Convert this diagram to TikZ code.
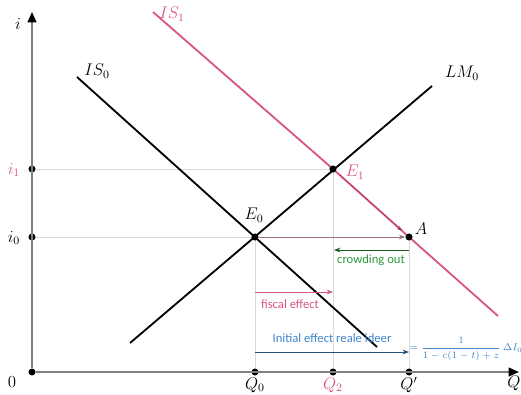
\documentclass[tikz,border=0pt]{standalone}
\usepackage{amsmath}
\usepackage{fontspec}
\newfontfamily\calib{Carlito}
\usetikzlibrary{arrows.meta,positioning}
\definecolor{pinkx}{HTML}{D9577E}
\definecolor{greenx}{HTML}{2E9A3A}
\definecolor{bluex}{HTML}{3F86CC}
\definecolor{redx}{HTML}{9A2C45}
\tikzset{
  curve/.style={line width=1.3pt},
  guide/.style={gray!30,line width=0.5pt},
  dot/.style={circle,fill=black,inner sep=0pt,minimum size=5pt},
  lbl/.style={font=\large,inner sep=1pt},
  eff/.style={-{Stealth[length=1.6mm]},line width=0.6pt},
  note/.style={font=\calib\small,inner sep=1pt}
}

\begin{document}
\begin{tikzpicture}[x=0.25mm,y=-0.25mm]
\useasboundingbox (0,0) rectangle (521,394);
% points
\node[dot] (O) at (32,372) {};
\node[dot] (i1) at (32,169) {};
\node[dot] (i0) at (32,237) {};
\node[dot] (Q0) at (255,372) {};
\node[dot] (Q2) at (333,372) {};
\node[dot] (Qp) at (409,372) {};
\coordinate (ytop) at (32,12);
\coordinate (xtop) at (519,372);
% guides
\draw[guide] (i1) -- (333,169);
\draw[guide] (i0) -- (255,237);
\draw[guide] (255,237) -- (Q0);
\draw[guide] (333,169) -- (Q2);
\draw[guide] (409,237) -- (Qp);
% axes
\draw[gray,line width=1.3pt,-{Triangle[length=2.6mm,width=2.2mm,color=black]}] (O) -- (ytop);
\draw[gray,line width=1.3pt,-{Triangle[length=2.6mm,width=2.2mm,color=black]}] (O) -- (xtop);
% curves
\draw[curve,pinkx] (153,12) -- (333,169) -- (409,237) -- (498,316);
\draw[curve] (77,77) -- (377,347);
\draw[curve] (130,343) -- (432,86);
\node[dot] (E0) at (255,237) {};
\node[dot] (E1) at (333,169) {};
\node[dot] (A) at (409,237) {};
% effects
\draw[redx,densely dotted,-{Stealth[length=1.3mm]},line width=0.7pt,shorten <=4pt,shorten >=4pt] (E1) -- (A);
\draw[eff,gray!70!pinkx] (E0) -- (A);
\coordinate (co1) at (409,250);
\coordinate (co2) at (334,250);
\draw[eff,greenx!60!black] (co1) -- (co2);
\coordinate (fe1) at (255,292);
\coordinate (fe2) at (333,292);
\draw[eff,pinkx] (fe1) -- (fe2);
\coordinate (ie1) at (255,352);
\coordinate (ie2) at (409,352);
\draw[eff,bluex!60!black] (ie1) -- (ie2);
% labels
\node[lbl] (li) at (18,24) {$i$};
\node[lbl] (lO) at (12,382) {$0$};
\node[lbl,text=pinkx] (li1) at (14,170) {$i_1$};
\node[lbl] (li0) at (14,238) {$i_0$};
\node[lbl] (lQ0) at (255,385) {$Q_0$};
\node[lbl,text=pinkx] (lQ2) at (333,385) {$Q_2$};
\node[lbl] (lQp) at (409,385) {$Q'$};
\node[lbl] (lQ) at (514,383) {$Q$};
\node[lbl] (lIS0) at (97,71) {$IS_0$};
\node[lbl,text=pinkx] (lIS1) at (172,14) {$IS_1$};
\node[lbl] (lLM0) at (462,73) {$LM_0$};
\node[lbl] (lE0) at (254,215) {$E_0$};
\node[lbl,text=pinkx] (lE1) at (355,172) {$E_1$};
\node[lbl] (lA) at (421,229) {$A$};
\node[note,text=greenx] (tco) at (371,260) {crowding out};
\node[note,text=pinkx] (tfe) at (290,304) {fiscal effect};
\node[note,text=bluex] (tie) at (332,338) {Initial effect reale ideer};
\node[font=\scriptsize,text=bluex,inner sep=1pt] (tmul) at (466,349) {$=\dfrac{1}{1-c(1-t)+z}\,\Delta I_0$};
\end{tikzpicture}
\end{document}
